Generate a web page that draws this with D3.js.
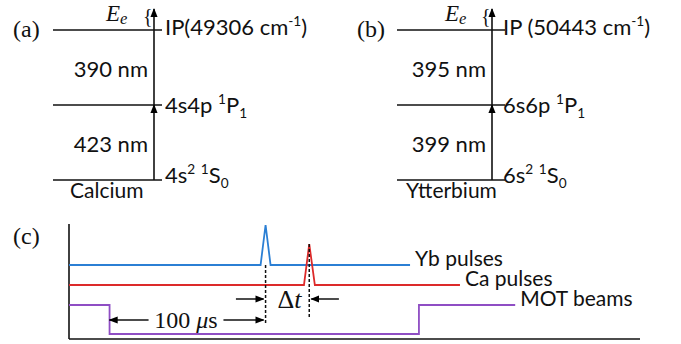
<!doctype html>
<html lang="en">
<head>
  <meta charset="utf-8">
  <title>Ca / Yb ionization scheme and pulse timing</title>
  <script src="https://d3js.org/d3.v7.min.js"></script>
  <style>
    body { margin: 0; background: #fff; }
    .sans { font-family: Lato, "Liberation Sans", sans-serif; }
    .serif { font-family: "Liberation Serif", "DejaVu Serif", serif; }
  </style>
</head>
<body>
<svg width="681" height="344"></svg>
<script>

// energy level schemes (levels drawn equally spaced, index 0 = ground)
var levelIndex = [0, 1, 2];
var caLevels = [
  [["4s", ""], ["2", "sup"], [" ", ""], ["1", "sup"], ["S", ""], ["0", "sub"]],
  [["4s4p ", ""], ["1", "sup"], ["P", ""], ["1", "sub"]],
  [["IP(49306 cm", ""], ["-1", "sup"], [")", ""]]
];
var ybLevels = [
  [["6s", ""], ["2", "sup"], [" ", ""], ["1", "sup"], ["S", ""], ["0", "sub"]],
  [["6s6p ", ""], ["1", "sup"], ["P", ""], ["1", "sub"]],
  [["IP (50443 cm", ""], ["-1", "sup"], [")", ""]]
];
var caWavelengths = ["423 nm", "390 nm"];
var ybWavelengths = ["399 nm", "395 nm"];
var atomNames = ["Calcium", "Ytterbium"];
var panelTags = ["(a)", "(b)", "(c)"];

// timing traces, time in microseconds, level in arbitrary units
var traceNames = ["Yb pulses", "Ca pulses", "MOT beams"];
var traceColors = ["#2b7fd4", "#dc2a2a", "#8f4ec4"];
var ybTrace = [[-26, 14.8], [96.8, 14.8], [100, 22.8], [103.2, 14.8], [192.6, 14.8]];
var caTrace = [[-26, 10.8], [124.6, 10.8], [128, 19], [131.6, 10.8], [224.6, 10.8]];
var motTrace = [[-26, 6.8], [0, 6.8], [0, 1], [198.3, 1], [198.3, 6.8], [260, 6.8]];
var delayTimes = [0, 100];
var deltaTimes = [100, 128];

var svg = d3.select("svg");

svg.append("defs").append("marker")
  .attr("id", "head")
  .attr("viewBox", "0 0 10 10")
  .attr("refX", 9).attr("refY", 5)
  .attr("markerWidth", 9).attr("markerHeight", 9)
  .attr("markerUnits", "userSpaceOnUse")
  .attr("orient", "auto")
  .append("path")
  .attr("d", "M0,1 L10,5 L0,9 z")
  .attr("fill", "#000");

function richText(sel, segs) {
  segs.forEach(function (s, i) {
    var t = sel.append("tspan").text(s[0]);
    if (s[1] == "sup") t.attr("font-size", "0.62em").attr("dy", -9);
    if (s[1] == "sub") t.attr("font-size", "0.62em").attr("dy", 5);
    if (s[1] == "") {
      // back to baseline after a raised / lowered piece
      var prev = segs[i - 1];
      if (prev && prev[1] == "sup") t.attr("dy", 9);
      if (prev && prev[1] == "sub") t.attr("dy", -5);
    }
  });
}

var yLev = d3.scaleLinear().domain([0, 2]).range([180, 30]);

function drawScheme(x0, x1, arrowX, levels, waves, atom, atomX, tag, eX) {
  var g = svg.append("g");

  g.selectAll(".lev")
    .data(levelIndex)
    .enter().append("line")
    .attr("x1", x0).attr("x2", x1)
    .attr("y1", d => yLev(d)).attr("y2", d => yLev(d))
    .attr("stroke", "#111").attr("stroke-width", 1.6);

  // excitation arrows
  g.append("line")
    .attr("x1", arrowX).attr("x2", arrowX)
    .attr("y1", yLev(0)).attr("y2", yLev(1))
    .attr("stroke", "#111").attr("stroke-width", 1.6)
    .attr("marker-end", "url(#head)");
  g.append("line")
    .attr("x1", arrowX).attr("x2", arrowX)
    .attr("y1", yLev(1)).attr("y2", yLev(2) - 21)
    .attr("stroke", "#111").attr("stroke-width", 1.6)
    .attr("marker-end", "url(#head)");

  var dys = [3, 8, 5];
  levels.forEach(function (segs, i) {
    var t = g.append("text").attr("class", "sans")
      .attr("x", arrowX + 11).attr("y", yLev(i) + dys[i])
      .attr("font-size", 22).attr("fill", "#111");
    richText(t, segs);
  });

  waves.forEach(function (w, i) {
    g.append("text").attr("class", "sans")
      .attr("x", arrowX - 6).attr("y", (yLev(i) + yLev(i + 1)) / 2 + 9)
      .attr("text-anchor", "end")
      .attr("font-size", 22).attr("fill", "#111")
      .text(w);
  });

  g.append("text").attr("class", "sans")
    .attr("x", atomX).attr("y", yLev(0) + 18)
    .attr("font-size", 21).attr("fill", "#111")
    .text(atom);

  g.append("text").attr("class", "serif")
    .attr("x", x0 - 40).attr("y", yLev(2) + 7)
    .attr("font-size", 24).attr("fill", "#111")
    .text(tag);

  // E_e with brace
  var e = g.append("text").attr("class", "serif")
    .attr("x", eX).attr("y", 21)
    .attr("font-size", 23).attr("font-style", "italic").attr("fill", "#111");
  e.append("tspan").text("E");
  e.append("tspan").attr("font-size", "0.72em").attr("dy", 3).text("e");
  g.append("text").attr("class", "serif")
    .attr("x", arrowX - 11).attr("y", 23)
    .attr("font-size", 20).attr("fill", "#111")
    .text("{");
}

drawScheme(53, 162, 154, caLevels, caWavelengths, atomNames[0], 70, panelTags[0], 106);
drawScheme(397, 505, 492, ybLevels, ybWavelengths, atomNames[1], 406, panelTags[1], 445);

// timing panel
var x = d3.scaleLinear().domain([-26, 340]).range([69, 640]);
var y = d3.scaleLinear().domain([0, 23]).range([339, 224]);
var gc = svg.append("g");

gc.append("line")
  .attr("x1", x(-26)).attr("x2", x(-26))
  .attr("y1", y(23)).attr("y2", y(0))
  .attr("stroke", "#111").attr("stroke-width", 1.6);
gc.append("line")
  .attr("x1", x(-26)).attr("x2", x(340))
  .attr("y1", y(0)).attr("y2", y(0))
  .attr("stroke", "#111").attr("stroke-width", 1.6);

var line = d3.line().x(d => x(d[0])).y(d => y(d[1]));
[ybTrace, caTrace, motTrace].forEach(function (tr, i) {
  gc.append("path")
    .datum(tr)
    .attr("d", line)
    .attr("fill", "none")
    .attr("stroke", traceColors[i])
    .attr("stroke-width", 1.8);
  var last = tr[tr.length - 1];
  gc.append("text").attr("class", "sans")
    .attr("x", x(last[0]) + 5).attr("y", y(last[1]) + 1)
    .attr("font-size", 21).attr("fill", "#111")
    .text(traceNames[i]);
});

// dashed markers under the pulse peaks
gc.append("line")
  .attr("x1", x(deltaTimes[0])).attr("x2", x(deltaTimes[0]))
  .attr("y1", y(14.8)).attr("y2", y(2.8))
  .attr("stroke", "#111").attr("stroke-width", 1.5)
  .attr("stroke-dasharray", "3,2");
gc.append("line")
  .attr("x1", x(deltaTimes[1])).attr("x2", x(deltaTimes[1]))
  .attr("y1", y(19)).attr("y2", y(4.2))
  .attr("stroke", "#111").attr("stroke-width", 1.5)
  .attr("stroke-dasharray", "3,2");

// 100 us arrow
var ay = y(3.8);
gc.append("line")
  .attr("x1", x(delayTimes[0] + 25)).attr("x2", x(delayTimes[0]))
  .attr("y1", ay).attr("y2", ay)
  .attr("stroke", "#111").attr("stroke-width", 1.5)
  .attr("marker-end", "url(#head)");
gc.append("line")
  .attr("x1", x(delayTimes[1] - 27)).attr("x2", x(delayTimes[1]) - 2)
  .attr("y1", ay).attr("y2", ay)
  .attr("stroke", "#111").attr("stroke-width", 1.5)
  .attr("marker-end", "url(#head)");
var dt = gc.append("text").attr("class", "serif")
  .attr("x", (x(delayTimes[0] + 25) + x(delayTimes[1] - 27)) / 2).attr("y", ay + 8)
  .attr("text-anchor", "middle")
  .attr("font-size", 24).attr("fill", "#111");
dt.append("tspan").text("100 ");
dt.append("tspan").attr("font-style", "italic").text("\u03bc");
dt.append("tspan").text("s");

// delta t arrows
var by = y(8);
gc.append("line")
  .attr("x1", x(deltaTimes[0] - 19)).attr("x2", x(deltaTimes[0]) - 2)
  .attr("y1", by).attr("y2", by)
  .attr("stroke", "#111").attr("stroke-width", 1.5)
  .attr("marker-end", "url(#head)");
gc.append("line")
  .attr("x1", x(deltaTimes[1] + 19)).attr("x2", x(deltaTimes[1]) + 2)
  .attr("y1", by).attr("y2", by)
  .attr("stroke", "#111").attr("stroke-width", 1.5)
  .attr("marker-end", "url(#head)");
var dl = gc.append("text").attr("class", "serif")
  .attr("x", (x(deltaTimes[0]) + x(deltaTimes[1])) / 2 + 2).attr("y", by + 9)
  .attr("text-anchor", "middle")
  .attr("font-size", 26).attr("fill", "#111");
dl.append("tspan").text("\u0394");
dl.append("tspan").attr("font-style", "italic").text("t");

gc.append("text").attr("class", "serif")
  .attr("x", 13).attr("y", 244)
  .attr("font-size", 24).attr("fill", "#111")
  .text(panelTags[2]);

</script>
</body>
</html>
